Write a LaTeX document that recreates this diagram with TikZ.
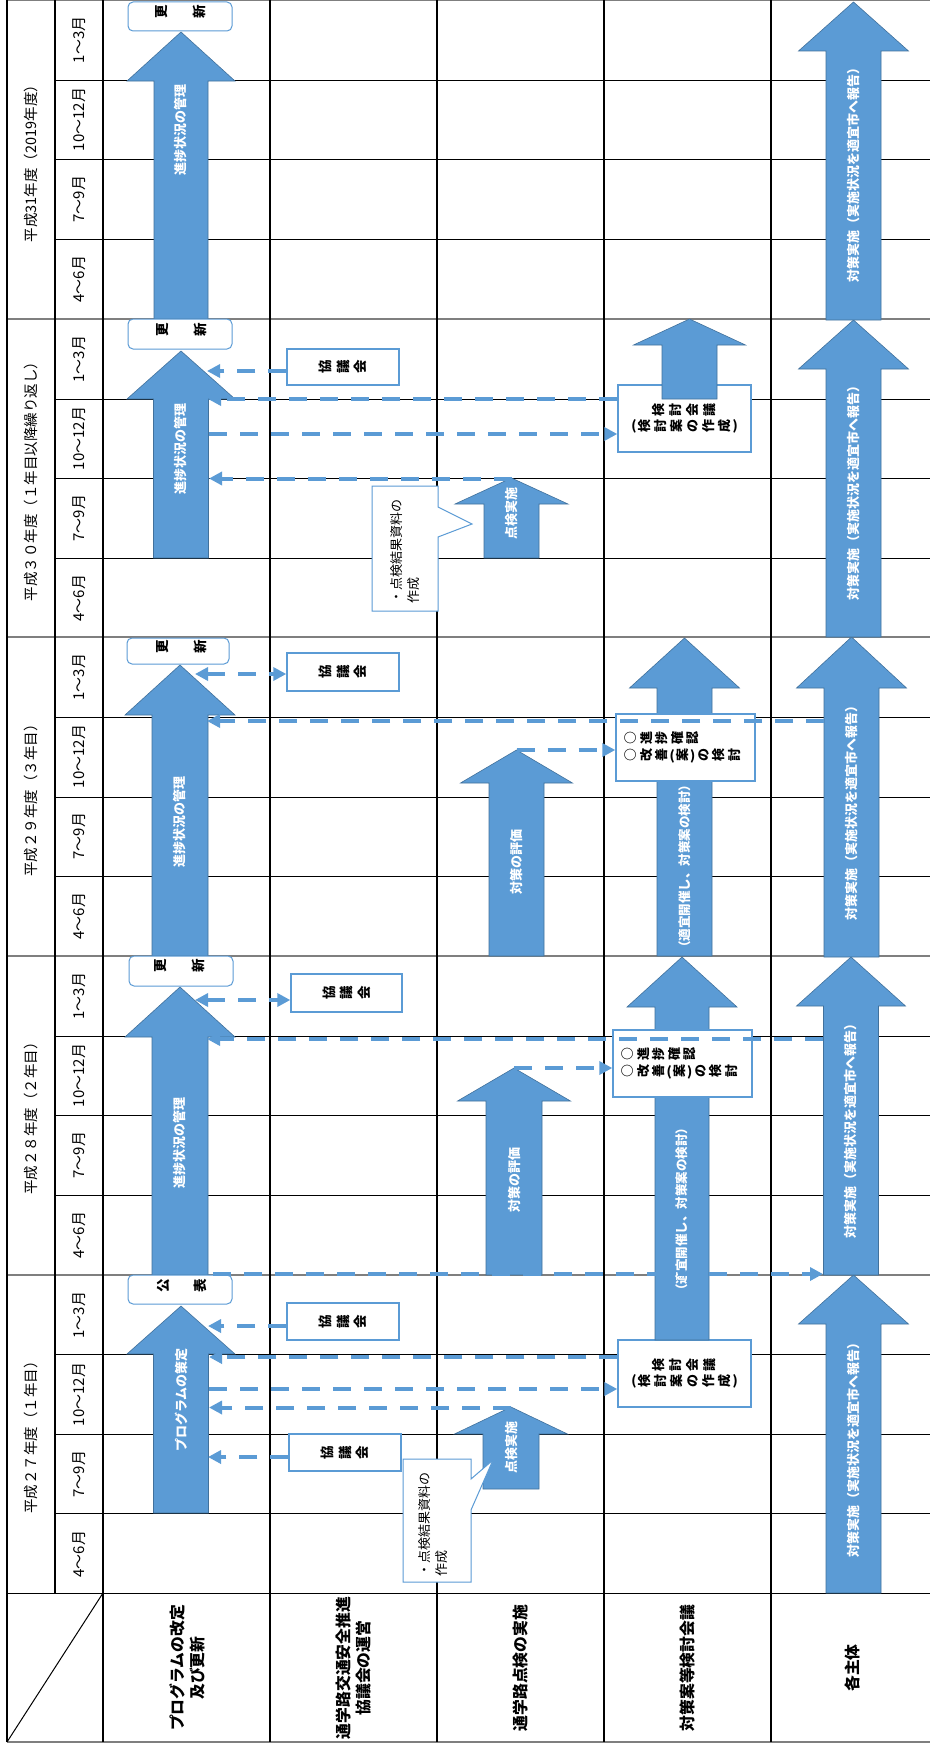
\documentclass[tikz,border=0pt]{standalone}
\usepackage{graphicx}
\usepackage{fontspec}
\setmainfont{Noto Sans CJK JP}
\usetikzlibrary{arrows.meta}
\definecolor{ablue}{HTML}{5B9BD5}
\definecolor{aedge}{HTML}{41719C}
\definecolor{ygray}{HTML}{7F7F7F}
\newlength\tsep
\setlength\tsep{15pt}
\newcommand\tchar[1]{\makebox[\tsep]{\rotatebox[origin=c]{90}{\raisebox{0pt}[0.88em][0.12em]{\makebox[1em]{#1}}}}}
\def\tateEnd{TATEEND}
\newcommand\tate[1]{\tateA#1\tateEnd}
\def\tateA#1{\ifx#1\tateEnd\else\tchar{#1}\expandafter\tateA\fi}
\newcommand\BArr[6]{\filldraw[fill=ablue,draw=aedge,line width=0.6pt] (#1-#5,#2) -- (#1-#5,#3) -- (#1-#6,#3) -- (#1,#4) -- (#1+#6,#3) -- (#1+#5,#3) -- (#1+#5,#2) -- cycle;}
\begin{document}
\begin{tikzpicture}[x=1pt,y=-1pt,
  vl/.style={line width=1.8pt, black},
  hq/.style={line width=1pt, black},
  hy/.style={line width=1.3pt, ygray},
  ylab/.style={rotate=90, font=\fontsize{14.5}{17}\selectfont, inner sep=0},
  mlab/.style={rotate=90, font=\fontsize{15}{17}\selectfont, inner sep=0},
  hdr/.style={rotate=90, align=center, font=\bfseries\fontsize{15.8}{20}\selectfont, inner sep=0},
  wlab/.style={rotate=90, text=white, font=\bfseries\fontsize{13}{15}\selectfont, inner sep=0},
  rbox/.style={draw=ablue, line width=1pt, fill=white, rounded corners=5pt, inner sep=0},
  kbox/.style={draw=ablue, line width=1.4pt, fill=white, inner sep=0},
  ttxt/.style={font=\bfseries\fontsize{13.5}{16}\selectfont, inner sep=0},
  dsh/.style={draw=ablue, line width=4pt, dash pattern=on 18pt off 13pt},
  tipend/.style={-{Triangle[length=13pt,width=13pt]}},
  tipboth/.style={{Triangle[length=13pt,width=13pt]}-{Triangle[length=13pt,width=13pt]}},
  callout/.style={draw=ablue, line width=1pt, fill=white},
  cotext/.style={rotate=90, align=left, font=\fontsize{13}{17}\selectfont, inner sep=0}]
\useasboundingbox (0,0) rectangle (930,1745);
\fill[white] (0,0) rectangle (930,1745);
% ---------- table ----------
\foreach \y in {80,159,239,399,478,558,717,797,876,1036,1115,1195,1354,1434,1513}
  \draw[hq] (55,\y) -- (930,\y);
\foreach \y in {319,637,956,1275}
  \draw[hy] (7,\y) -- (930,\y);
\draw[hy] (7,0.7) -- (930,0.7);
\draw[hq] (7,1593) -- (930,1593);
\draw[hy] (7,1742) -- (930,1742);
\draw[vl] (7,0) -- (7,1742);
\draw[vl] (55,0) -- (55,1593);
\foreach \x in {103,270,437,604,771} \draw[vl] (\x,0) -- (\x,1742);
\draw[hq] (7,1742) -- (103,1593);
% ---------- year labels ----------
\node[ylab] (y31) at (31,160) {平成31年度（2019年度）};
\node[ylab] (y30) at (31,478) {平成３０年度（１年目以降繰り返し）};
\node[ylab] (y29) at (31,797) {平成２９年度（３年目）};
\node[ylab] (y28) at (31,1115) {平成２８年度（２年目）};
\node[ylab] (y27) at (31,1434) {平成２７年度（１年目）};
% ---------- month labels ----------
\foreach \T [count=\i] in {0,319,637,956,1275}{
  \node[mlab] (m\i-a) at (79,\T+40) {1～3月};
  \node[mlab] (m\i-b) at (79,\T+119.5) {10～12月};
  \node[mlab] (m\i-c) at (79,\T+199) {7～9月};
  \node[mlab] (m\i-d) at (79,\T+279) {4～6月};
}
% ---------- row headers ----------
\node[hdr] (h2) at (187,1668) {プログラムの改定\\及び更新};
\node[hdr] (h3) at (353.5,1668) {通学路交通安全推進\\協議会の運営};
\node[hdr] (h4) at (520.5,1668) {通学路点検の実施};
\node[hdr] (h5) at (687.5,1668) {対策案等検討会議};
\node[hdr] (h6) at (852,1668) {各主体};
% ---------- col5 boxes under arrows ----------
\node[kbox, minimum width=133pt, minimum height=67pt, align=center, ttxt, font=\bfseries\fontsize{13}{16}\selectfont] (kt27) at (684.5,1373.5)
  {{\setlength\tsep{17pt}\tate{検討会議}}\\{\setlength\tsep{16pt}(\tate{検討案の作成})}};
\node[kbox, minimum width=133pt, minimum height=67pt, align=center, ttxt, font=\bfseries\fontsize{13}{16}\selectfont] (kt30) at (684.5,418.5)
  {{\setlength\tsep{17pt}\tate{検討会議}}\\{\setlength\tsep{16pt}(\tate{検討案の作成})}};
% ---------- big arrows ----------
% col2
\BArr{181}{1513}{1354}{1306}{27.5}{54}
\BArr{180}{1275}{1037}{987}{28}{55}
\BArr{180}{956}{715}{665}{28}{55}
\BArr{181}{558}{399}{351}{27.5}{54}
\BArr{181}{319}{81}{32}{27}{54}
% col4
\BArr{511}{1489}{1434}{1407}{28}{56.5}
\BArr{514}{1275}{1101}{1068}{28}{56.5}
\BArr{516.5}{956}{783}{750}{27.5}{56}
\BArr{511.5}{558}{504}{478}{27.5}{56.5}
% col5
\BArr{682}{1340}{1007}{957}{27}{55}
\BArr{684.5}{956}{688}{638}{27.5}{55}
\BArr{689.5}{399}{345}{319}{27.5}{56}
% col6
\BArr{853.5}{1593}{1324}{1275}{27.5}{55}
\BArr{851}{1275}{1006}{957}{27.5}{54.5}
\BArr{851.5}{957}{688}{637}{27.5}{55}
\BArr{853.5}{637}{369}{320}{27.5}{55}
\BArr{853.5}{320}{51}{2}{27.5}{55}
% ---------- arrow labels ----------
\node[wlab] (a2y27) at (181,1400) {プログラムの策定};
\node[wlab] (a2y28) at (180,1143) {進捗状況の管理};
\node[wlab] (a2y29) at (180,822) {進捗状況の管理};
\node[wlab] (a2y30) at (181,449) {進捗状況の管理};
\node[wlab] (a2y31) at (181,130) {進捗状況の管理};
\node[wlab] (a4y27) at (511.5,1447) {点検実施};
\node[wlab] (a4y28) at (514.5,1180) {対策の評価};
\node[wlab] (a4y29) at (516.5,862) {対策の評価};
\node[wlab] (a4y30) at (511.5,513) {点検実施};
\node[wlab, font=\bfseries\fontsize{12.5}{15}\selectfont] (a5y28) at (682,1209) {（適宜開催し、対策案の検討）};
\node[wlab, font=\bfseries\fontsize{12.5}{15}\selectfont] (a5y29) at (684.5,866) {（適宜開催し、対策案の検討）};
\node[wlab] (a6y27) at (853.5,1447) {対策実施（実施状況を適宜市へ報告）};
\node[wlab] (a6y28) at (851,1128) {対策実施（実施状況を適宜市へ報告）};
\node[wlab] (a6y29) at (851.5,810) {対策実施（実施状況を適宜市へ報告）};
\node[wlab] (a6y30) at (853.5,490) {対策実施（実施状況を適宜市へ報告）};
\node[wlab] (a6y31) at (853.5,172) {対策実施（実施状況を適宜市へ報告）};
% ---------- col2 rounded boxes ----------
\node[rbox, minimum width=104pt, minimum height=29pt] (kohyo) at (180,1289.5) {};
\node[ttxt] (kohyoT) at (181.5,1285.5) {\setlength\tsep{14pt}\tchar{公}\hspace{23pt}\tchar{表}};
\node[rbox, minimum width=104pt, minimum height=30pt] (kou28) at (181,971) {};
\node[ttxt] (kou28T) at (179,965.5) {\setlength\tsep{14pt}\tchar{更}\hspace{24pt}\tchar{新}};
\node[rbox, minimum width=102pt, minimum height=26pt] (kou29) at (178,651) {};
\node[ttxt] (kou29T) at (181,646.5) {\setlength\tsep{14pt}\tchar{更}\hspace{24pt}\tchar{新}};
\node[rbox, minimum width=104pt, minimum height=30pt] (kou30) at (180,334) {};
\node[ttxt] (kou30T) at (181,329.5) {\setlength\tsep{14pt}\tchar{更}\hspace{24pt}\tchar{新}};
\node[rbox, minimum width=104pt, minimum height=29pt] (kou31) at (180,16.5) {};
\node[ttxt] (kou31T) at (180,11.5) {\setlength\tsep{14pt}\tchar{更}\hspace{24pt}\tchar{新}};
% ---------- col3 boxes ----------
\node[kbox, ttxt, minimum width=112pt, minimum height=37pt] (k27a) at (343,1321.5) {\setlength\tsep{17.5pt}\tate{協議会}};
\node[kbox, ttxt, minimum width=112pt, minimum height=37pt] (k27b) at (345,1452.5) {\setlength\tsep{17.5pt}\tate{協議会}};
\node[kbox, ttxt, minimum width=111pt, minimum height=38pt] (k28) at (346.5,993) {\setlength\tsep{17.5pt}\tate{協議会}};
\node[kbox, ttxt, minimum width=112pt, minimum height=38pt] (k29) at (343,672) {\setlength\tsep{17.5pt}\tate{協議会}};
\node[kbox, ttxt, minimum width=112pt, minimum height=36pt] (k30) at (343,367) {\setlength\tsep{17.5pt}\tate{協議会}};
% ---------- col5 boxes over arrows ----------
\node[kbox, ttxt, font=\bfseries\fontsize{13}{17}\selectfont, text width=125pt, inner xsep=7pt, minimum height=67pt, align=left] (s28) at (682.5,1063.5)
  {{\setlength\tsep{15.5pt}\tate{○進捗確認}}\\{\setlength\tsep{15.5pt}\tate{○改善}(\tate{案})\tate{の検討}}};
\node[kbox, ttxt, font=\bfseries\fontsize{13}{17}\selectfont, text width=125pt, inner xsep=7pt, minimum height=67pt, align=left] (s29) at (685.5,747.5)
  {{\setlength\tsep{15.5pt}\tate{○進捗確認}}\\{\setlength\tsep{15.5pt}\tate{○改善}(\tate{案})\tate{の検討}}};
% ---------- callouts ----------
\filldraw[callout] (403,1459) -- (471,1459) -- (471,1479) -- (493,1460) -- (471,1510) -- (471,1582) -- (403,1582) -- cycle;
\node[cotext, anchor=north west] (co27) at (418,1577) {・点検結果資料の\\作成};
\filldraw[callout] (372,486) -- (438,486) -- (438,507) -- (472,524) -- (438,537) -- (438,611) -- (372,611) -- cycle;
\node[cotext, anchor=north west] (co30) at (390,604) {・点検結果資料の\\作成};
% ---------- dashed connectors ----------
% year 27
\coordinate (p27a) at (208,1326);
\coordinate (p27b) at (208,1457);
\coordinate (p27c) at (209,1357);
\coordinate (p27d) at (209,1389);
\coordinate (t27) at (511,1407.5);
\coordinate (p27e) at (209,1407.5);
\coordinate (kohyoR) at (213,1274);
\coordinate (s6a) at (823,1274);
\draw[dsh,tipend] (k27a.west |- p27a) -- (p27a);
\draw[dsh,tipend] (k27b.west |- p27b) -- (p27b);
\draw[dsh,tipend] (kt27.west |- p27c) -- (p27c);
\draw[dsh,tipend] (p27d) -- (kt27.west |- p27d);
\draw[dsh,tipend] (t27) -- (p27e);
\draw[dsh,tipend] (kohyoR) -- (s6a);
% year 28
\coordinate (p28a) at (195,1000);
\coordinate (p28b) at (207,1039);
\coordinate (s628) at (823,1039);
\coordinate (t28) at (514,1068);
\draw[dsh,tipboth] (p28a) -- (k28.west |- p28a);
\draw[dsh,tipend] (s628) -- (p28b);
\draw[dsh,tipend] (t28) -- (s28.west |- t28);
% year 29
\coordinate (p29a) at (195,674);
\coordinate (p29b) at (207,721);
\coordinate (s629) at (824,721);
\coordinate (t29) at (516.5,750);
\draw[dsh,tipboth] (p29a) -- (k29.west |- p29a);
\draw[dsh,tipend] (s629) -- (p29b);
\draw[dsh,tipend] (t29) -- (s29.west |- t29);
% year 30
\coordinate (p30a) at (207,371);
\coordinate (p30b) at (208,399);
\coordinate (p30c) at (209,434);
\coordinate (t30) at (511.5,478.5);
\coordinate (p30d) at (209,478.5);
\draw[dsh,tipend] (k30.west |- p30a) -- (p30a);
\draw[dsh,tipend] (kt30.west |- p30b) -- (p30b);
\draw[dsh,tipend] (p30c) -- (kt30.west |- p30c);
\draw[dsh,tipend] (t30) -- (p30d);
\end{tikzpicture}
\end{document}
